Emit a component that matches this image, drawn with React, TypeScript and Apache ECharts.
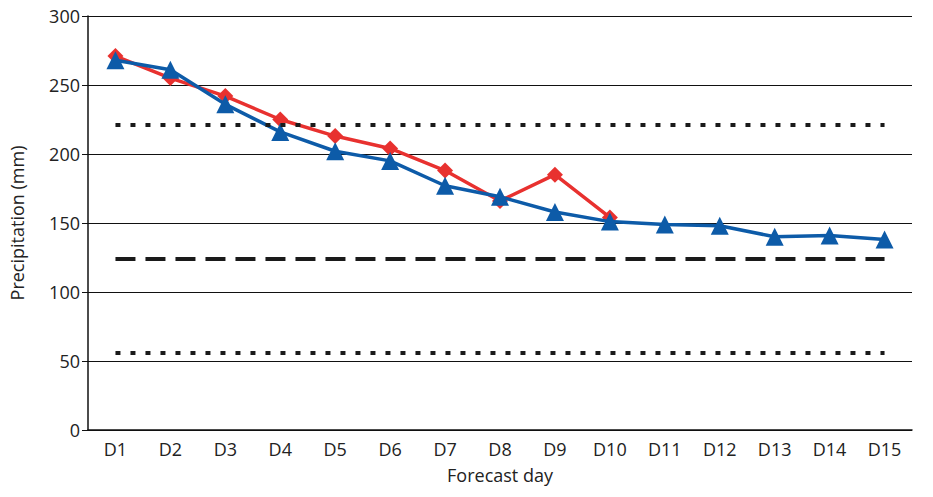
import { useEffect, useRef } from 'react'
import * as echarts from 'echarts'

const days = ['D1', 'D2', 'D3', 'D4', 'D5', 'D6', 'D7', 'D8', 'D9', 'D10', 'D11', 'D12', 'D13', 'D14', 'D15']
const redSeries = [271, 255, 242, 225, 213, 204, 188, 166, 185, 154]
const blueSeries = [268, 261, 236, 216, 202, 195, 177, 169, 158, 151, 149, 148, 140, 141, 138]
const upperDotted = 221
const middleDashed = 124
const lowerDotted = 56

export default function App() {
  const chartRef = useRef<HTMLDivElement>(null)

  useEffect(() => {
    if (!chartRef.current) return
    const chart = echarts.init(chartRef.current, null, { renderer: 'svg' })
    const font = 'Open Sans'
    const refLine = (y: number, type: number[]) => [
      { coord: ['D1', y], lineStyle: { color: '#1a1a1a', width: 4, type, cap: 'butt' } },
      { coord: ['D15', y] },
    ]
    chart.setOption({
      animation: false,
      textStyle: { fontFamily: font },
      grid: { left: 88, right: 21, top: 16, bottom: 67 },
      xAxis: {
        type: 'category',
        data: days,
        name: 'Forecast day',
        nameLocation: 'middle',
        nameGap: 36,
        nameTextStyle: { fontSize: 18, color: '#222', fontFamily: font },
        axisLine: { lineStyle: { color: '#111', width: 1.5 } },
        axisTick: { length: 8, lineStyle: { color: '#111' } },
        axisLabel: { fontSize: 18, color: '#222', margin: 10 },
      },
      yAxis: {
        type: 'value',
        min: 0,
        max: 300,
        interval: 50,
        name: 'Precipitation (mm)',
        nameLocation: 'middle',
        nameGap: 62,
        nameTextStyle: { fontSize: 18, color: '#222', fontFamily: font },
        axisLine: { show: true, lineStyle: { color: '#111', width: 1.5 } },
        axisTick: { show: true, length: 6, lineStyle: { color: '#111' } },
        axisLabel: { fontSize: 18, color: '#222' },
        splitLine: { lineStyle: { color: '#111', width: 1 } },
      },
      series: [
        {
          type: 'line',
          data: redSeries,
          symbol: 'diamond',
          symbolSize: 16,
          lineStyle: { color: '#e8312f', width: 3.5 },
          itemStyle: { color: '#e8312f' },
          z: 3,
        },
        {
          type: 'line',
          data: blueSeries,
          symbol: 'triangle',
          symbolSize: 18,
          lineStyle: { color: '#0d5ba8', width: 3.5 },
          itemStyle: { color: '#0d5ba8' },
          z: 4,
          markLine: {
            silent: true,
            symbol: 'none',
            label: { show: false },
            data: [
              refLine(upperDotted, [5, 10]),
              refLine(middleDashed, [20, 10]),
              refLine(lowerDotted, [5, 10]),
            ],
          },
        },
      ],
    })
    return () => chart.dispose()
  }, [])

  return <div ref={chartRef} style={{ width: 933, height: 497, margin: -8 }} />
}
